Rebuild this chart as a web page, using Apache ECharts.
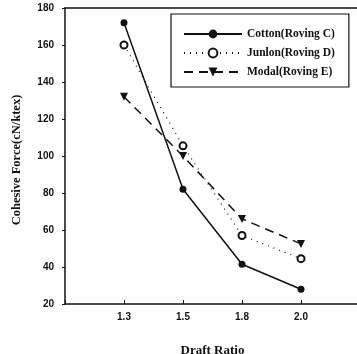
<!DOCTYPE html>
<html>
<head>
<meta charset="utf-8">
<script src="https://cdn.jsdelivr.net/npm/echarts@6/dist/echarts.min.js"></script>
<style>
  html, body { margin: 0; padding: 0; background: #fff; }
  #chart { width: 357px; height: 354px; }
</style>
</head>
<body>
<div id="chart"></div>
<script>
// draft ratios on the x axis
var ratios = ['1.3', '1.5', '1.8', '2.0'];
// cohesive force values (cN/ktex)
var cotton = [172, 82, 41.5, 28];
var junlon = [160, 105.5, 57, 44.5];
var modal = [132, 100, 66, 52.5];
var yTicks = [20, 40, 60, 80, 100, 120, 140, 160, 180];

var ink = '#111';
var serif = '"Liberation Serif", "DejaVu Serif", serif';
var sans = '"Liberation Sans", Arial, sans-serif';

function pts(vals) {
    return vals.map(function (v, i) { return [i + 1, v]; });
}

var myChart = echarts.init(document.getElementById('chart'));
var option = {
    backgroundColor: '#fff',
    animation: false,
    grid: { left: 65, top: 8, width: 295, height: 296, outerBoundsMode: 'none' },
    legend: {
        left: 171, top: 14,
        orient: 'vertical',
        backgroundColor: '#fff',
        borderColor: ink, borderWidth: 1.2,
        padding: [14, 14, 9, 12],
        itemGap: 7, itemWidth: 58, itemHeight: 11,
        textStyle: { fontFamily: serif, fontWeight: 'bold', fontSize: 11.5, color: ink },
        data: ['Cotton(Roving C)', 'Junlon(Roving D)', 'Modal(Roving E)']
    },
    xAxis: [
        {
            type: 'value', min: 0, max: 5, interval: 1,
            name: 'Draft Ratio', nameLocation: 'middle', nameGap: 40,
            nameTextStyle: { fontFamily: serif, fontWeight: 'bold', fontSize: 13, color: ink },
            axisLine: { lineStyle: { color: ink, width: 1.5 } },
            axisTick: { inside: true, length: 4, lineStyle: { color: ink } },
            axisLabel: {
                margin: 8, fontFamily: sans, fontWeight: 'bold', fontSize: 10, color: ink,
                formatter: function (v) { return ratios[v - 1] || ''; }
            },
            splitLine: { show: false }
        },
        {
            type: 'value', min: 0, max: 5, position: 'top',
            axisLine: { show: true, onZero: false, lineStyle: { color: ink, width: 1.5 } },
            axisTick: { show: false }, axisLabel: { show: false }, splitLine: { show: false }
        }
    ],
    yAxis: {
        type: 'value', min: yTicks[0], max: yTicks[yTicks.length - 1], interval: 20,
        name: 'Cohesive Force(cN/ktex)', nameLocation: 'middle', nameGap: 42,
        nameTextStyle: { fontFamily: serif, fontWeight: 'bold', fontSize: 12.5, color: ink, padding: [0, 8, 0, 0] },
        axisLine: { show: true, lineStyle: { color: ink, width: 1.5 } },
        axisTick: { show: true, length: 3, lineStyle: { color: ink } },
        axisLabel: { margin: 11, fontFamily: sans, fontWeight: 'bold', fontSize: 10, color: ink },
        splitLine: { show: false }
    },
    series: [
        {
            name: 'Cotton(Roving C)', type: 'line', data: pts(cotton),
            symbol: 'circle', symbolSize: 7,
            itemStyle: { color: ink },
            lineStyle: { color: ink, width: 1.5, type: 'solid' }
        },
        {
            name: 'Junlon(Roving D)', type: 'line', data: pts(junlon),
            symbol: 'emptyCircle', symbolSize: 7,
            itemStyle: { color: ink, borderWidth: 1.5 },
            lineStyle: { color: ink, width: 1.2, type: [1, 5] }
        },
        {
            name: 'Modal(Roving E)', type: 'line', data: pts(modal),
            symbol: 'triangle', symbolRotate: 180, symbolSize: 8,
            itemStyle: { color: ink },
            lineStyle: { color: ink, width: 1.5, type: [9, 6] }
        }
    ]
};
myChart.setOption(option);
</script>
</body>
</html>
